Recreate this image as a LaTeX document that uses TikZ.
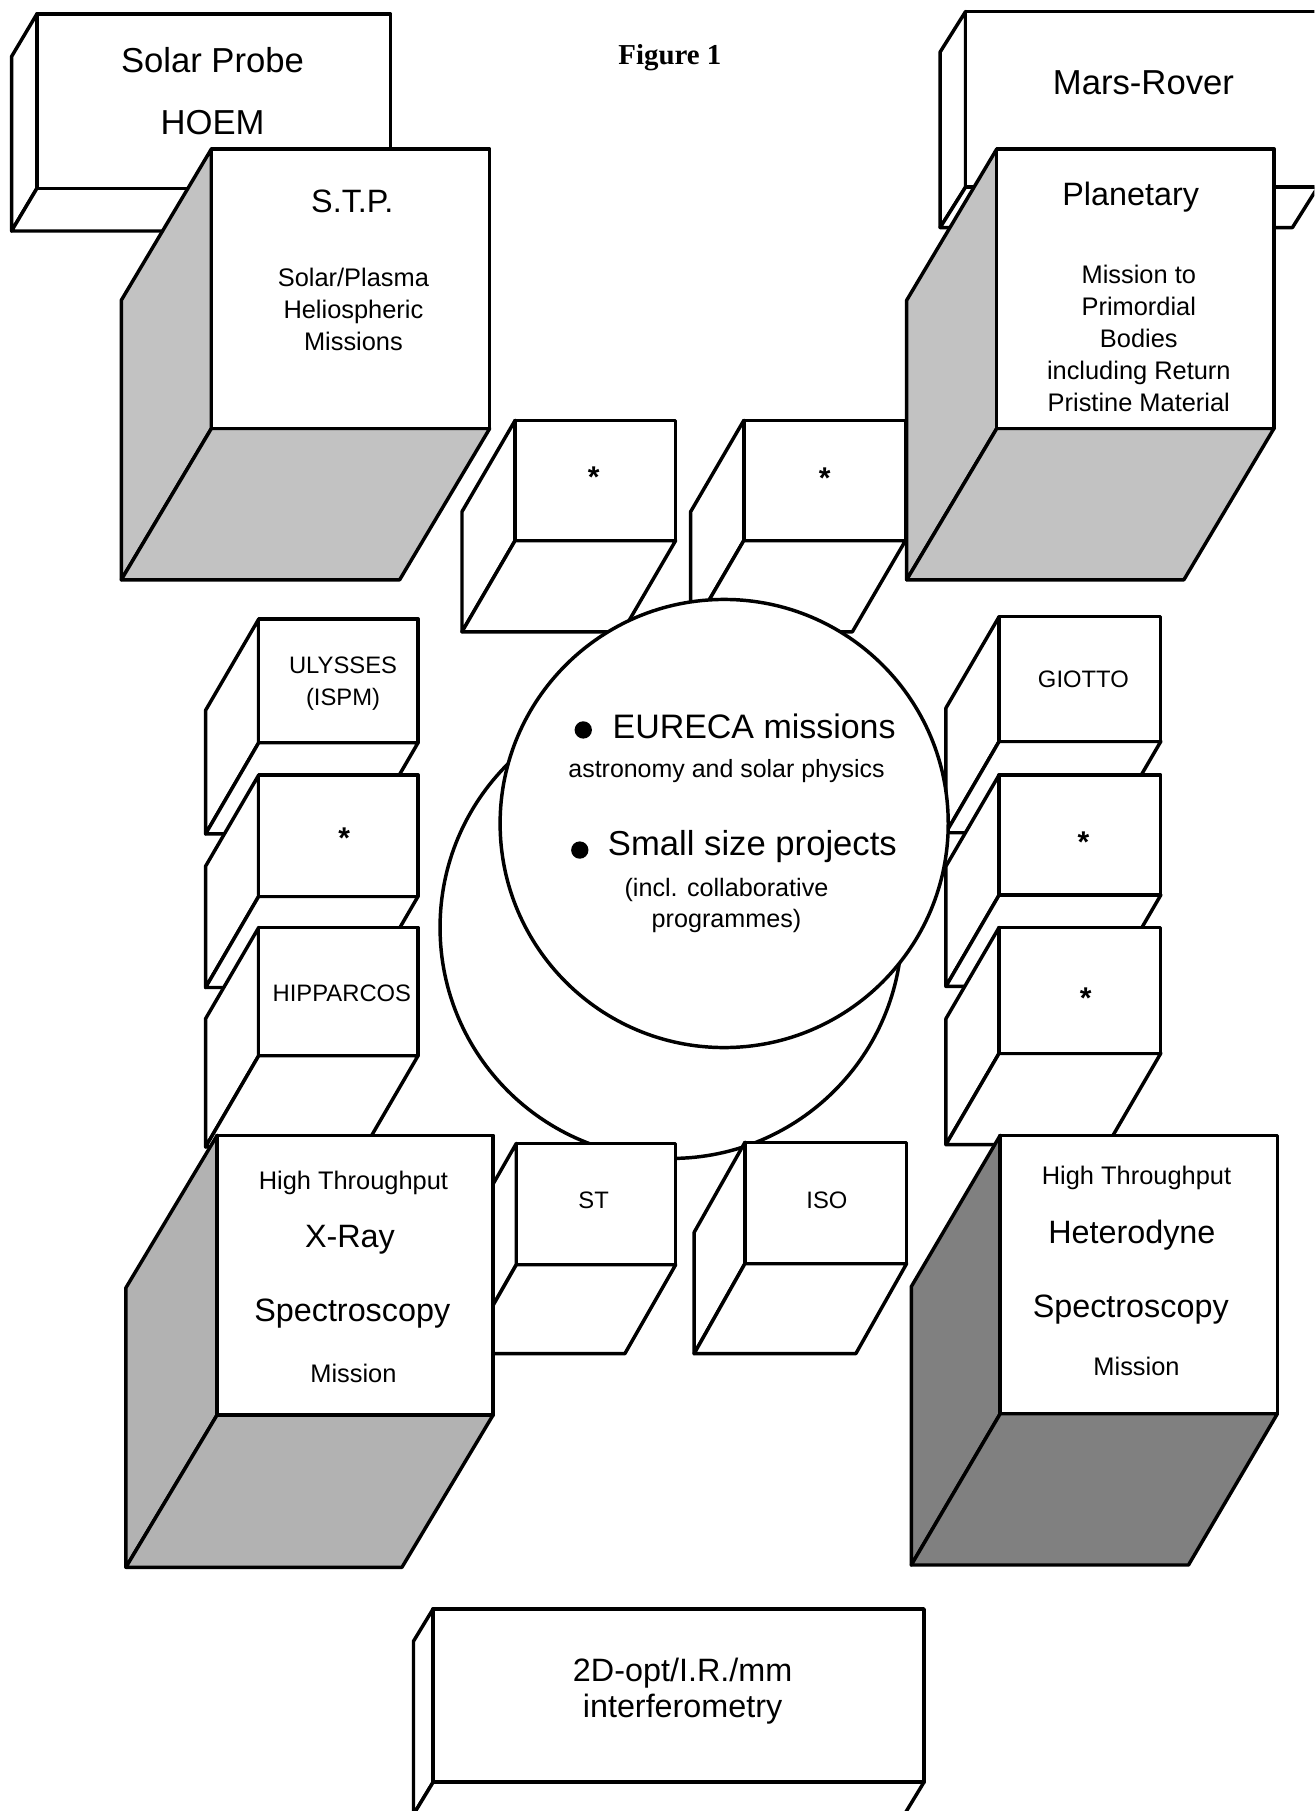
\documentclass[tikz,border=0pt]{standalone}
\usepackage{fontspec}
\setmainfont{Liberation Sans}
\newfontfamily\figfont{Liberation Serif}
\newcommand{\cubebox}[7]{%
  \filldraw[boxline,fill=#7] (#1,#2) -- ({#1+#5},{#2+#6}) -- ({#1+#5},{#4+#6}) -- (#1,#4) -- cycle;
  \filldraw[boxline,fill=#7] (#1,#4) -- (#3,#4) -- ({#3+#5},{#4+#6}) -- ({#1+#5},{#4+#6}) -- cycle;
  \filldraw[boxline,fill=white] (#1,#2) rectangle (#3,#4);
}
\tikzset{
  boxline/.style={line width=1.5pt, line join=round},
  txt/.style={inner sep=0pt, align=center},
  big/.style={txt, font=\fontsize{15}{18}\selectfont},
  mid/.style={txt, font=\fontsize{14}{17}\selectfont},
  sml/.style={txt, font=\fontsize{11}{13.75}\selectfont},
  tiny/.style={txt, font=\fontsize{10.3}{14}\selectfont},
  star/.style={txt, font=\bfseries\fontsize{13}{14}\selectfont},
}
\colorlet{shadeA}{black!24}
\colorlet{shadeB}{black!30}
\colorlet{shadeC}{black!50}
\begin{document}
\begin{tikzpicture}[x=0.5pt,y=-0.5pt]
\useasboundingbox (0,0) rectangle (1138,1568);
\clip (0,0) rectangle (1138,1568);
\fill[white] (0,0) rectangle (1138,1568);

% top-left and top-right wide boxes
\cubebox{32}{12}{338}{163}{-22}{37}{white}
\cubebox{836}{10}{1141}{162}{-22}{35}{white}
% S.T.P.
\cubebox{183}{129}{424}{371}{-78}{131}{shadeA}
% upper small boxes
\cubebox{446}{364}{585}{468}{-46}{79}{white}
\cubebox{644}{364}{784}{468}{-46}{79}{white}
% Planetary
\cubebox{863}{129}{1103}{371}{-78}{131}{shadeA}
% left stack
\cubebox{224}{536}{362}{643}{-46}{79}{white}
\cubebox{224}{671}{362}{776}{-46}{79}{white}
\cubebox{224}{803}{362}{914}{-46}{79}{white}
% right stack
\cubebox{865}{534}{1005}{642}{-46}{79}{white}
\cubebox{865}{671}{1005}{775}{-46}{79}{white}
\cubebox{865}{803}{1005}{912}{-46}{79}{white}
% central discs
\draw[boxline,fill=white] (581,803) circle (200);
\draw[boxline,fill=white] (627,713) circle (194);
% lower small boxes
\cubebox{447}{990}{585}{1095}{-44}{77}{white}
\cubebox{645}{989}{785}{1094}{-44}{78}{white}
% X-Ray and Heterodyne
\cubebox{188}{983}{427}{1225}{-79}{132}{shadeB}
\cubebox{866}{983}{1106}{1224}{-77}{131}{shadeC}
% interferometry
\cubebox{375}{1393}{800}{1543}{-17}{28}{white}

% texts
\node[txt,font=\figfont\bfseries\fontsize{12.5}{14}\selectfont] (fig) at (580,50) {Figure 1};
\node[big] (sp) at (184,52) {Solar Probe};
\node[big] (hoem) at (184,106) {HOEM};
\node[mid] (stp) at (305,174) {S.T.P.};
\node[sml] (stpd) at (306,268) {Solar/Plasma\\Heliospheric\\Missions};
\node[big] (mars) at (990,72) {Mars-Rover};
\node[mid] (plan) at (979,171) {Planetary};
\node[sml] (pland) at (986,293) {Mission to\\Primordial\\Bodies\\including Return\\Pristine Material};
\node[star] (s1) at (514,413) {*};
\node[star] (s2) at (714,414) {*};
\node[tiny] (uly) at (297,592) {ULYSSES\\(ISPM)};
\node[star] (s3) at (298,726) {*};
\node[tiny] (hip) at (296,860) {HIPPARCOS};
\node[tiny] (gio) at (938,588) {GIOTTO};
\node[star] (s4) at (938,729) {*};
\node[star] (s5) at (940,864) {*};
\fill (505,632) circle (7.5);
\node[txt,anchor=west,font=\fontsize{14.7}{17}\selectfont] (eur) at (530,629) {EURECA missions};
\node[txt,font=\fontsize{10.8}{13}\selectfont] (ast) at (629,668) {astronomy and solar physics};
\fill (502,736) circle (7.5);
\node[txt,anchor=west,font=\fontsize{15}{17}\selectfont] (small) at (526,733) {Small size projects};
\node[txt,font=\fontsize{10.9}{13.4}\selectfont] (incl) at (629,784) {(incl. collaborative\\programmes)};
\node[tiny] (st) at (514,1039) {ST};
\node[tiny] (iso) at (716,1039) {ISO};
\node[sml] (ht1) at (306,1024) {High Throughput};
\node[mid] (xr) at (303,1073) {X-Ray};
\node[mid] (sp1) at (305,1137) {Spectroscopy};
\node[sml] (m1) at (306,1189) {Mission};
\node[sml] (ht2) at (984,1020) {High Throughput};
\node[mid] (het) at (980,1069) {Heterodyne};
\node[mid] (sp2) at (979,1134) {Spectroscopy};
\node[sml] (m2) at (984,1183) {Mission};
\node[txt,font=\fontsize{14}{15.8}\selectfont] (int) at (591,1464) {2D-opt/I.R./mm\\interferometry};
\end{tikzpicture}
\end{document}
